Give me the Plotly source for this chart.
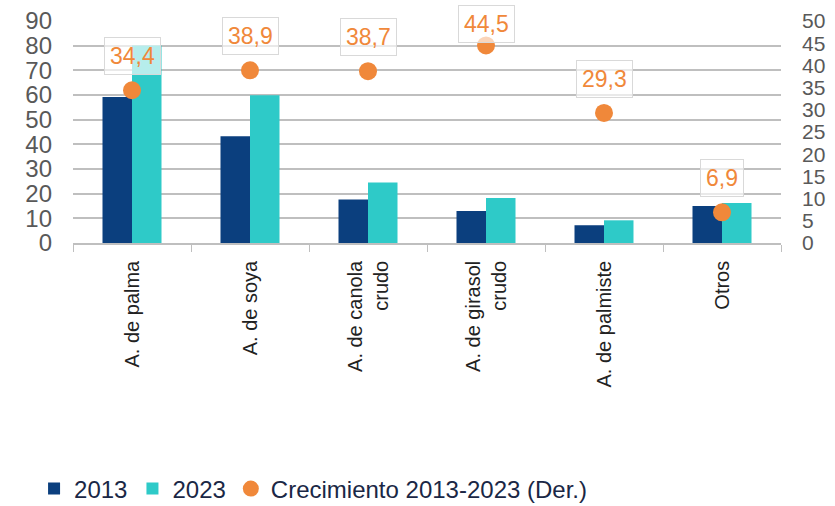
import plotly.graph_objects as go

# categorias y valores
categorias = ['A. de palma', 'A. de soya', 'A. de canola<br>crudo',
              'A. de girasol<br>crudo', 'A. de palmiste', 'Otros']
valores_2013 = [59.2, 43.3, 17.6, 13.0, 7.2, 15.0]
valores_2023 = [80.1, 59.9, 24.5, 18.2, 9.2, 16.2]
crecimiento = [34.4, 38.9, 38.7, 44.5, 29.3, 6.9]
etiquetas = ['34,4', '38,9', '38,7', '44,5', '29,3', '6,9']

azul = '#0b3f7e'
cian = '#2ecac8'
naranja = '#f0883a'
gris = '#595959'
fuente = 'Liberation Sans, Arial, sans-serif'

fig = go.Figure()

fig.add_trace(go.Bar(x=categorias, y=valores_2013, name='2013',
                     marker_color=azul, marker_line_width=0))
fig.add_trace(go.Bar(x=categorias, y=valores_2023, name='2023',
                     marker_color=cian, marker_line_width=0))
fig.add_trace(go.Scatter(x=categorias, y=crecimiento, yaxis='y2', mode='markers',
                         name='Crecimiento 2013-2023 (Der.)',
                         marker=dict(color=naranja, size=18)))

### etiquetas con caja, por encima de cada punto ###
top_px, plot_h = 20.7, 222
for cat, v, txt in zip(categorias, crecimiento, etiquetas):
    dot_px = top_px + (50 - v) / 50 * plot_h
    shift = 34
    if dot_px - shift < 24:
        shift = dot_px - 24
    fig.add_annotation(x=cat, y=v, yref='y2', text=txt, showarrow=False,
                       yshift=shift, font=dict(color=naranja, size=23, family=fuente),
                       bgcolor='rgba(255,255,255,0.65)', bordercolor='#d9d9d9',
                       borderwidth=1, borderpad=5)

fig.update_layout(
    width=835, height=506,
    margin=dict(l=73, r=54, t=21, b=263, autoexpand=False),
    plot_bgcolor='white', paper_bgcolor='white',
    barmode='group', bargap=0.5, bargroupgap=0,
    font=dict(family=fuente, color=gris),
    showlegend=True,
    legend=dict(orientation='h', x=-0.055, xanchor='left', y=-1.108, yanchor='middle',
                font=dict(size=24, color='#1a2745', family=fuente),
                itemwidth=30, traceorder='normal'),
    xaxis=dict(tickangle=-90, tickfont=dict(size=20, color='#222222'),
               ticks='outside', tickson='boundaries', ticklen=7, tickcolor='#bfbfbf',
               showline=True, linecolor='#bfbfbf', linewidth=1.5,
               showgrid=False, ticklabelstandoff=8, automargin=False),
    yaxis=dict(range=[0, 90], dtick=10, showgrid=True, gridcolor='#bfbfbf',
               gridwidth=1.5, zeroline=False, tickfont=dict(size=24, color=gris),
               ticklabelstandoff=20, automargin=False),
    yaxis2=dict(range=[0, 50], dtick=5, overlaying='y', side='right', showgrid=False,
                zeroline=False, tickfont=dict(size=21, color=gris),
                ticklabelstandoff=20, automargin=False),
)

# sin margen del body para que el grafico ocupe la ventana
fig.write_html("out.html", config={'displayModeBar': False},
               post_script="document.body.style.margin='0';")
